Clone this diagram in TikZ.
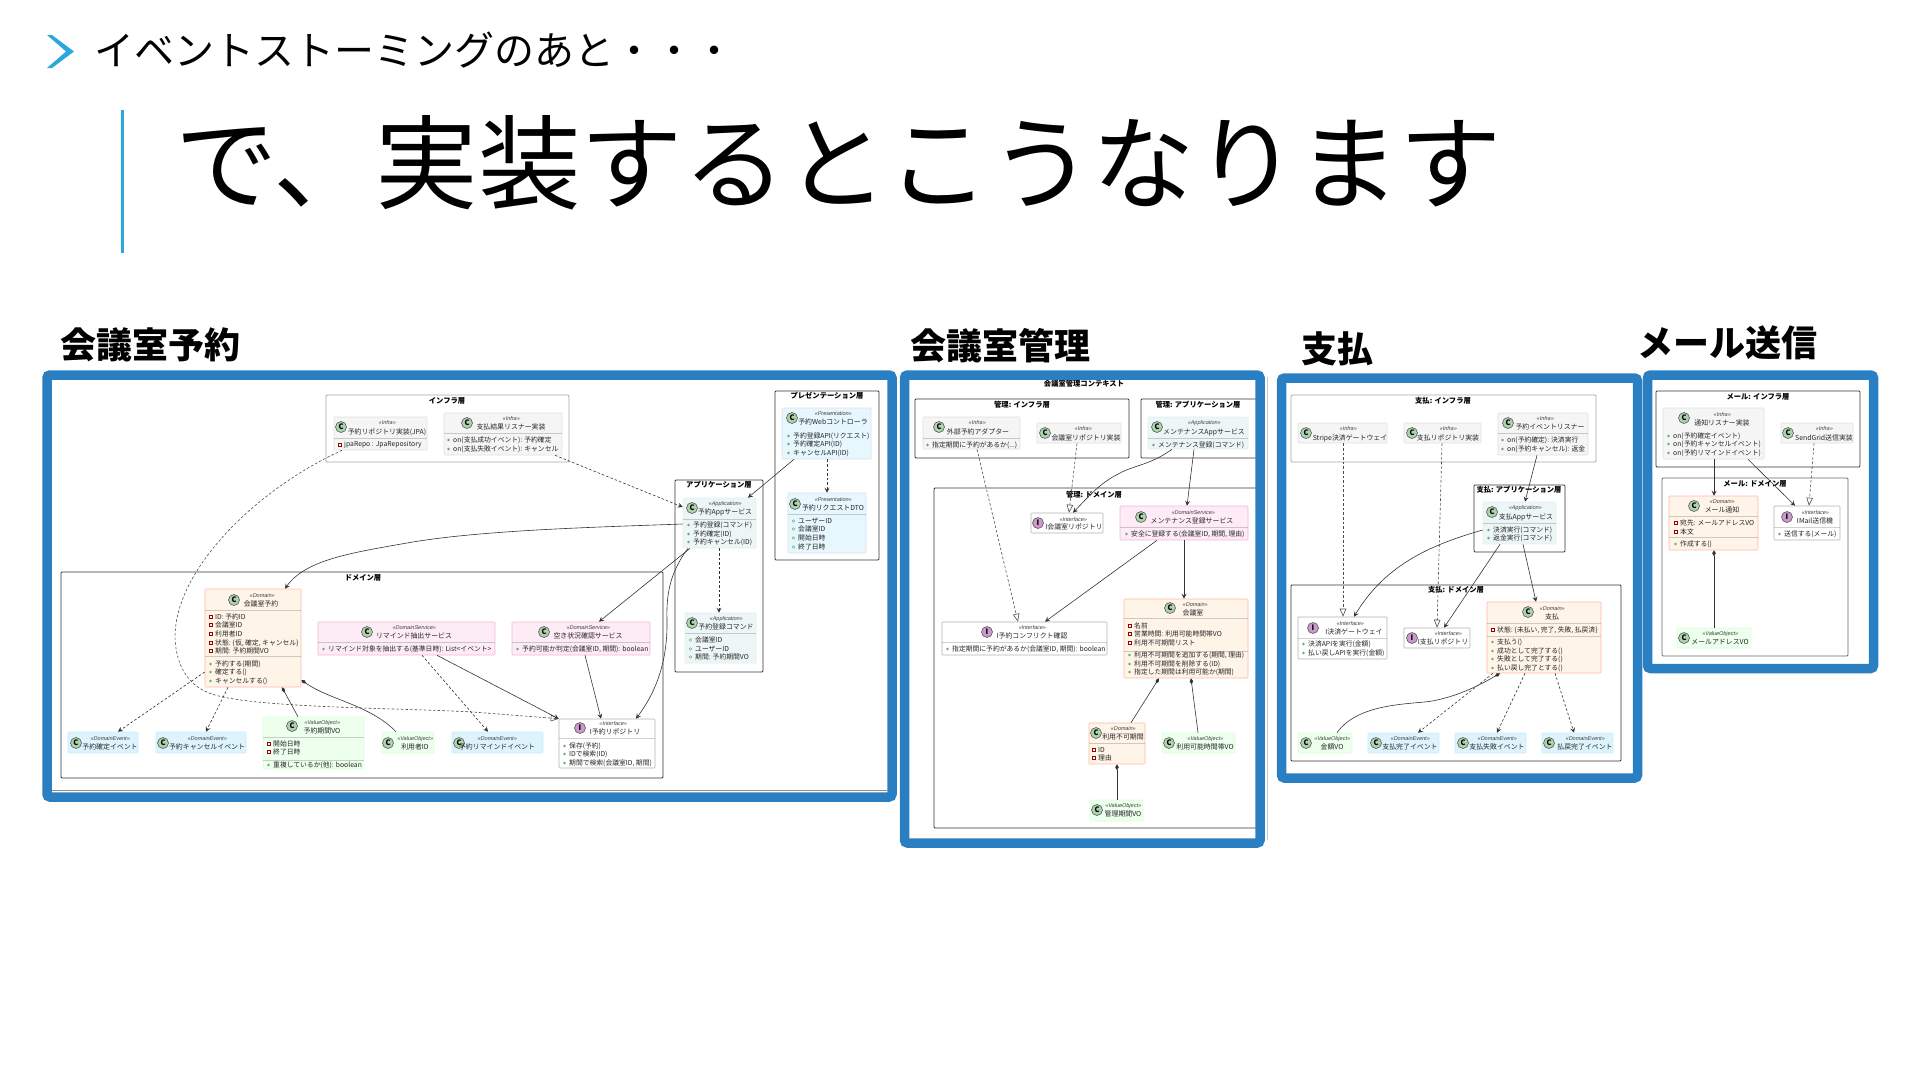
\documentclass[tikz,border=0pt]{standalone}
\usepackage{fontspec}
\setmainfont{Noto Sans CJK JP}
\newfontfamily\stereofont[FakeSlant=0.2]{Liberation Sans}
\usepackage{xcolor}
\usetikzlibrary{arrows.meta,fit,calc}
\definecolor{framecol}{HTML}{2A7FC2}
\definecolor{accentcol}{HTML}{2AA8DC}
\tikzset{
  % slide texts
  subhead/.style={anchor=west,inner sep=0pt,font=\fontsize{40}{44}\selectfont},
  pagehead/.style={anchor=west,inner sep=0pt,font=\fontsize{102.4}{110}\selectfont},
  panelhead/.style={anchor=west,inner sep=0pt,font=\fontsize{36}{40}\selectfont\bfseries},
  panelframe/.style={draw=framecol,line width=9.5pt,rounded corners=3pt,inner sep=0pt},
  % layers
  layerbox/.style={draw=black!80,line width=.8pt,rounded corners=1pt,inner sep=0pt},
  layerpale/.style={draw=black!35,line width=.8pt,rounded corners=1pt,inner sep=0pt},
  layertitle/.style={inner sep=0pt,font=\fontsize{7.3}{8}\selectfont\bfseries},
  % class cards
  card/.style={line width=.6pt,rounded corners=.8pt,inner sep=0pt},
  infracard/.style={card,fill=black!4,draw=black!12},
  domcard/.style={card,fill=orange!9,draw=orange!45!red!35},
  svccard/.style={card,fill=magenta!8,draw=magenta!30},
  evcard/.style={card,fill=cyan!13,draw=cyan!22},
  valcard/.style={card,fill=green!7,draw=green!15},
  appcard/.style={card,fill=teal!7,draw=teal!12},
  prescard/.style={card,fill=cyan!10,draw=cyan!18!blue!12},
  ifacecard/.style={card,fill=white,draw=black!30},
  sepline/.style={draw=black,draw opacity=.18,line width=.6pt},
  % card texts
  headC/.style={circle,draw=black!65,fill=green!45!black!32,line width=.6pt,inner sep=0pt,minimum size=11pt,
    font=\fontsize{7.5}{8}\selectfont\bfseries},
  headI/.style={headC,fill=violet!40},
  stereo/.style={inner sep=0pt,text=black!75,font=\fontsize{5.5}{6}\stereofont},
  cname/.style={inner sep=0pt,text=black!85,font=\fontsize{6.9}{8}\selectfont},
  memb/.style={anchor=west,inner sep=0pt,text=black!85,font=\fontsize{6.8}{8}\selectfont},
  pubdot/.style={circle,fill=green!45!black!60,inner sep=0pt,minimum size=2.6pt},
  pkgdot/.style={circle,draw=green!45!black!60,inner sep=0pt,minimum size=2.6pt,line width=.4pt},
  privbox/.style={draw=red!60!black,inner sep=0pt,minimum size=2.6pt,line width=.5pt},
  % connectors
  useedge/.style={line width=.6pt,black!80,-{Stealth[length=5pt,width=5pt,inset=2pt]}},
  depedge/.style={useedge,dash pattern=on 2.6pt off 2pt},
  realedge/.style={line width=.6pt,black!70,dash pattern=on 2.6pt off 2pt,-{Triangle[open,length=8pt,width=6.5pt,fill=white]}},
  compedge/.style={line width=.6pt,black!80,-{Diamond[length=6pt,width=3.5pt]}},
}
\newcommand{\cardhead}[7]{%
  \node[head#2] (#1C) at (#3) {#2};
  \node[stereo] (#1S) at (#4) {«#6»};
  \node[cname] (#1N) at (#5) {#7};}
\newcommand{\cardsep}[2]{\draw[sepline] (#1.west |- 0,#2) -- (#1.east |- 0,#2);}
\newcommand{\pubm}[4]{\node[pubdot] (#1m) at ({#2-4.5},#3) {}; \node[memb] (#1) at (#2,#3) {#4};}
\newcommand{\pkgm}[4]{\node[pkgdot] (#1m) at ({#2-4.5},#3) {}; \node[memb] (#1) at (#2,#3) {#4};}
\newcommand{\privm}[4]{\node[privbox] (#1m) at ({#2-4.5},#3) {}; \node[memb] (#1) at (#2,#3) {#4};}

\begin{document}
\begin{tikzpicture}[x=1pt,y=-1pt]
\useasboundingbox (0,0) rectangle (1920,1080);

%% ---- slide heading ----
\fill[accentcol] (47,35) -- (52,35) -- (74,51.5) -- (52,68) -- (47,68) -- (66,51.5) -- cycle;
\node[subhead] (subTitle) at (94,50) {イベントストーミングのあと・・・};
\fill[accentcol] (120.5,110) rectangle (123.5,253);
\node[pagehead] (pageTitle) at (175,163) {で、実装するとこうなります};
\node[panelhead] (headRsv) at (60,345) {会議室予約};
\node[panelhead] (headRoom) at (910,346) {会議室管理};
\node[panelhead] (headPay) at (1301,349) {支払};
\node[panelhead] (headMail) at (1637,343) {メール送信};

%% ---- panel: reservation, layers ----
\node[layerpale,fit={(326,395)(569,462)}] (rsvInfra) {};
\node[layertitle] (rsvInfraT) at (447,401) {インフラ層};
\node[layerbox,fit={(775,391)(879,560)}] (rsvPres) {};
\node[layertitle] (rsvPresT) at (827,396) {プレゼンテーション層};
\node[layerbox,fit={(675,480)(763,672)}] (rsvAppL) {};
\node[layertitle] (rsvAppT) at (719,485) {アプリケーション層};
\node[layerbox,fit={(61,572)(663,778)}] (rsvDom) {};
\node[layertitle] (rsvDomT) at (363,578) {ドメイン層};

%% ---- panel: reservation, cards ----
\node[infracard,fit={(334,417)(427,450)}] (rsvJpa) {};
\cardhead{rsvJpa}{C}{341,427}{387,423}{387,432}{Infra}{予約リポジトリ実装(JPA)}
\cardsep{rsvJpa}{438}
\privm{rsvJpaA}{344}{445}{jpaRepo : JpaRepository}

\node[infracard,fit={(444,413)(562,455)}] (rsvListen) {};
\cardhead{rsvListen}{C}{467,423}{511,419}{511,427}{Infra}{支払結果リスナー実装}
\cardsep{rsvListen}{433}
\pubm{rsvListenA}{453}{440}{on(支払成功イベント): 予約確定}
\pubm{rsvListenB}{453}{449}{on(支払失敗イベント): キャンセル}

\node[prescard,fit={(782,408)(871,459)}] (rsvWeb) {};
\cardhead{rsvWeb}{C}{792,418}{833,414}{833,422}{Presentation}{予約Webコントローラ}
\pubm{rsvWebA}{793}{436}{予約登録API(リクエスト)}
\pubm{rsvWebB}{793}{444}{予約確定API(ID)}
\pubm{rsvWebC}{793}{453}{キャンセルAPI(ID)}

\node[prescard,fit={(788,493)(866,553)}] (rsvDto) {};
\cardhead{rsvDto}{C}{795,504}{833,500}{833,508}{Presentation}{予約リクエストDTO}
\cardsep{rsvDto}{514}
\pkgm{rsvDtoA}{798}{521}{ユーザーID}
\pkgm{rsvDtoB}{798}{529}{会議室ID}
\pkgm{rsvDtoC}{798}{538}{開始日時}
\pkgm{rsvDtoD}{798}{547}{終了日時}

\node[appcard,fit={(683,498)(756,548)}] (rsvApp) {};
\cardhead{rsvApp}{C}{692,508}{725,504}{725,512}{Application}{予約Appサービス}
\cardsep{rsvApp}{519}
\pubm{rsvAppA}{693}{525}{予約登録(コマンド)}
\pubm{rsvAppB}{693}{534}{予約確定(ID)}
\pubm{rsvAppC}{693}{542}{予約キャンセル(ID)}

\node[appcard,fit={(685,613)(756,663)}] (rsvCmd) {};
\cardhead{rsvCmd}{C}{692,623}{726,619}{726,627}{Application}{予約登録コマンド}
\cardsep{rsvCmd}{633}
\pkgm{rsvCmdA}{695}{640}{会議室ID}
\pkgm{rsvCmdB}{695}{649}{ユーザーID}
\pkgm{rsvCmdC}{695}{657}{期間: 予約期間VO}

\node[domcard,fit={(205,589)(301,687)}] (rsvRoom) {};
\cardhead{rsvRoom}{C}{234,600}{262,596}{261,604}{Domain}{会議室予約}
\cardsep{rsvRoom}{610}
\cardsep{rsvRoom}{656}
\privm{rsvRoomA}{215}{617}{ID: 予約ID}
\privm{rsvRoomB}{215}{625}{会議室ID}
\privm{rsvRoomC}{215}{634}{利用者ID}
\privm{rsvRoomD}{215}{643}{状態: \{仮, 確定, キャンセル\}}
\privm{rsvRoomE}{215}{651}{期間: 予約期間VO}
\pubm{rsvRoomF}{215}{664}{予約する(期間)}
\pubm{rsvRoomG}{215}{672}{確定する()}
\pubm{rsvRoomH}{215}{681}{キャンセルする()}

\node[svccard,fit={(318,622)(495,655)}] (rsvRemind) {};
\cardhead{rsvRemind}{C}{367,632}{414,628}{414,636}{DomainService}{リマインド抽出サービス}
\cardsep{rsvRemind}{642}
\pubm{rsvRemindA}{328}{649}{リマインド対象を抽出する(基準日時): List<イベント>}

\node[svccard,fit={(512,622)(650,655)}] (rsvAvail) {};
\cardhead{rsvAvail}{C}{544,632}{588,628}{588,636}{DomainService}{空き状況確認サービス}
\cardsep{rsvAvail}{642}
\pubm{rsvAvailA}{522}{649}{予約可能か判定(会議室ID, 期間): boolean}

\node[ifacecard,fit={(559,719)(655,768)}] (rsvRepo) {};
\cardhead{rsvRepo}{I}{580,728}{613,724}{615,732}{Interface}{I予約リポジトリ}
\cardsep{rsvRepo}{738}
\pubm{rsvRepoA}{569}{746}{保存(予約)}
\pubm{rsvRepoB}{569}{754}{IDで検索(ID)}
\pubm{rsvRepoC}{569}{763}{期間で検索(会議室ID, 期間)}

\node[evcard,fit={(68,732)(138,753)}] (rsvFixEv) {};
\cardhead{rsvFixEv}{C}{76,743}{110,739}{110,747}{DomainEvent}{予約確定イベント}
\node[evcard,fit={(156,732)(246,753)}] (rsvCancelEv) {};
\cardhead{rsvCancelEv}{C}{163,743}{207,739}{207,747}{DomainEvent}{予約キャンセルイベント}
\node[valcard,fit={(263,717)(364,769)}] (rsvSpan) {};
\cardhead{rsvSpan}{C}{292,726}{322,723}{322,731}{ValueObject}{予約期間VO}
\cardsep{rsvSpan}{737}
\cardsep{rsvSpan}{760}
\privm{rsvSpanA}{273}{744}{開始日時}
\privm{rsvSpanB}{273}{752}{終了日時}
\pubm{rsvSpanC}{273}{765}{重複しているか(他): boolean}
\node[valcard,fit={(382,732)(434,753)}] (rsvUser) {};
\cardhead{rsvUser}{C}{388,743}{415,739}{415,747}{ValueObject}{利用者ID}
\node[evcard,fit={(452,732)(543,753)}] (rsvRemEv) {};
\cardhead{rsvRemEv}{C}{459,743}{497,739}{497,747}{DomainEvent}{予約リマインドイベント}

%% ---- panel: reservation, connectors ----
\draw[realedge] (rsvJpa.south -| 342,0) .. controls (255,490) and (175,570) .. (175,637)
  .. controls (176,668) and (190,688) .. (215,695) .. controls (260,708) and (400,708) .. (473,712)
  -- (rsvRepo.north west);
\draw[depedge] (rsvListen.south -| 555,0) -- (rsvApp.west |- 0,507);
\draw[useedge] (rsvWeb.south -| 794,0) -- (rsvApp.north -| 748,0);
\draw[depedge] (rsvWeb.south -| 827,0) -- (rsvDto.north -| 827,0);
\draw[depedge] (rsvApp.south -| 719,0) -- (rsvCmd.north -| 719,0);
\draw[useedge] (rsvApp.west |- 0,524) .. controls (600,527) and (480,530) .. (407,543)
  .. controls (350,553) and (305,560) .. (rsvRoom.north -| 285,0);
\draw[useedge] (rsvApp.south -| 690,0) -- (rsvAvail.north -| 599,0);
\draw[useedge] (rsvApp.south -| 688,0) .. controls (672,570) and (666,590) .. (667,620)
  .. controls (668,670) and (650,700) .. (rsvRepo.north -| 636,0);
\draw[useedge] (rsvAvail.south -| 585,0) -- (rsvRepo.north -| 601,0);
\draw[useedge] (rsvRemind.south -| 437,0) -- (rsvRepo.north west);
\draw[depedge] (rsvRemind.south -| 422,0) -- (rsvRemEv.north -| 488,0);
\draw[depedge] (rsvRoom.west |- 0,672) -- (rsvFixEv.north -| 118,0);
\draw[depedge] (rsvRoom.south -| 228,0) -- (rsvCancelEv.north -| 206,0);
\draw[compedge] (rsvSpan.north -| 298,0) -- (rsvRoom.south -| 282,0);
\draw[compedge] (rsvUser.north -| 396,0) .. controls (370,705) and (330,700) .. (rsvRoom.east |- 0,680);

%% ---- panel: room management, layers ----
\node[layertitle] (romT) at (1084,384) {会議室管理コンテキスト};
\node[layerbox,fit={(915,399)(1129,458)}] (romInfra) {};
\node[layertitle] (romInfraT) at (1022,405) {管理: インフラ層};
\node[layerbox,fit={(1141,399)(1258,458)}] (romAppL) {};
\node[layertitle] (romAppT) at (1198,405) {管理: アプリケーション層};
\node[layerbox,fit={(934,488)(1258,828)}] (romDom) {};
\node[layertitle] (romDomT) at (1094,495) {管理: ドメイン層};

%% ---- panel: room management, cards ----
\node[infracard,fit={(923,417)(1020,449)}] (romExt) {};
\cardhead{romExt}{C}{939,427}{977,423}{978,432}{Infra}{外部予約アダプター}
\cardsep{romExt}{438}
\pubm{romExtA}{932}{445}{指定期間に予約があるか(...)}

\node[infracard,fit={(1037,423)(1121,443)}] (romImpl) {};
\cardhead{romImpl}{C}{1045,433}{1083,429}{1086,438}{Infra}{会議室リポジトリ実装}

\node[appcard,fit={(1148,417)(1248,449)}] (romApp) {};
\cardhead{romApp}{C}{1157,427}{1204,423}{1204,432}{Application}{メンテナンスAppサービス}
\cardsep{romApp}{438}
\pubm{romAppA}{1158}{445}{メンテナンス登録(コマンド)}

\node[ifacecard,fit={(1031,513)(1103,533)}] (romRepo) {};
\cardhead{romRepo}{I}{1038,523}{1073,520}{1074,527}{Interface}{I会議室リポジトリ}

\node[svccard,fit={(1120,506)(1248,540)}] (romSvc) {};
\cardhead{romSvc}{C}{1141,517}{1193,513}{1192,521}{DomainService}{メンテナンス登録サービス}
\cardsep{romSvc}{527}
\pubm{romSvcA}{1131}{534}{安全に登録する(会議室ID, 期間, 理由)}

\node[ifacecard,fit={(942,622)(1107,655)}] (romCheck) {};
\cardhead{romCheck}{I}{987,632}{1032,628}{1032,636}{Interface}{I予約コンフリクト確認}
\cardsep{romCheck}{642}
\pubm{romCheckA}{952}{649}{指定期間に予約があるか(会議室ID, 期間): boolean}

\node[domcard,fit={(1124,599)(1248,678)}] (romRoom) {};
\cardhead{romRoom}{C}{1170,608}{1195,605}{1193,613}{Domain}{会議室}
\cardsep{romRoom}{618}
\cardsep{romRoom}{651}
\privm{romRoomA}{1134}{626}{名前}
\privm{romRoomB}{1134}{634}{営業時間: 利用可能時間帯VO}
\privm{romRoomC}{1134}{643}{利用不可期間リスト}
\pubm{romRoomD}{1134}{655}{利用不可期間を追加する(期間, 理由)}
\pubm{romRoomE}{1134}{664}{利用不可期間を削除する(ID)}
\pubm{romRoomF}{1134}{672}{指定した期間は利用可能か(期間)}

\node[domcard,fit={(1089,723)(1145,764)}] (romOff) {};
\cardhead{romOff}{C}{1096,733}{1123,729}{1123,737}{Domain}{利用不可期間}
\cardsep{romOff}{743}
\privm{romOffA}{1098}{750}{ID}
\privm{romOffB}{1098}{758}{理由}

\node[valcard,fit={(1162,733)(1235,753)}] (romHours) {};
\cardhead{romHours}{C}{1169,743}{1205,739}{1205,747}{ValueObject}{利用可能時間帯VO}
\node[valcard,fit={(1090,800)(1143,821)}] (romSpan) {};
\cardhead{romSpan}{C}{1097,810}{1123,806}{1123,814}{ValueObject}{管理期間VO}

%% ---- panel: room management, connectors ----
\draw[realedge] (romExt.south -| 977,0) -- (romCheck.north -| 1018,0);
\draw[realedge] (romImpl.south -| 1077,0) -- (romRepo.north -| 1069,0);
\draw[useedge] (romApp.south -| 1172,0) .. controls (1150,465) and (1135,465) .. (1120,473)
  .. controls (1100,483) and (1090,495) .. (romRepo.north -| 1073,0);
\draw[useedge] (romApp.south -| 1194,0) -- (romSvc.north -| 1187,0);
\draw[useedge] (romSvc.south -| 1157,0) -- (romCheck.north -| 1045,0);
\draw[useedge] (romSvc.south -| 1184,0) -- (romRoom.north -| 1184,0);
\draw[compedge] (romOff.north -| 1131,0) -- (romRoom.south -| 1159,0);
\draw[compedge] (romHours.north -| 1198,0) -- (romRoom.south -| 1191,0);
\draw[compedge] (romSpan.north -| 1117,0) -- (romOff.south -| 1117,0);

%% ---- panel: payment, layers ----
\node[layerpale,fit={(1291,395)(1596,462)}] (payInfra) {};
\node[layertitle] (payInfraT) at (1443,401) {支払: インフラ層};
\node[layerbox,fit={(1474,485)(1565,552)}] (payAppL) {};
\node[layertitle] (payAppT) at (1519,490) {支払: アプリケーション層};
\node[layerbox,fit={(1291,585)(1621,761)}] (payDom) {};
\node[layertitle] (payDomT) at (1456,590) {支払: ドメイン層};

%% ---- panel: payment, cards ----
\node[infracard,fit={(1298,423)(1387,443)}] (payStripe) {};
\cardhead{payStripe}{C}{1306,433}{1348,429}{1350,438}{Infra}{Stripe決済ゲートウェイ}
\node[infracard,fit={(1404,423)(1481,443)}] (payImpl) {};
\cardhead{payImpl}{C}{1412,433}{1448,429}{1448,438}{Infra}{支払リポジトリ実装}
\node[infracard,fit={(1498,413)(1588,455)}] (payListen) {};
\cardhead{payListen}{C}{1508,423}{1545,419}{1550,427}{Infra}{予約イベントリスナー}
\cardsep{payListen}{433}
\pubm{payListenA}{1507}{440}{on(予約確定): 決済実行}
\pubm{payListenB}{1507}{449}{on(予約キャンセル): 返金}

\node[appcard,fit={(1483,502)(1556,544)}] (payApp) {};
\cardhead{payApp}{C}{1492,512}{1525,508}{1526,517}{Application}{支払Appサービス}
\cardsep{payApp}{523}
\pubm{payAppA}{1493}{530}{決済実行(コマンド)}
\pubm{payAppB}{1493}{538}{返金実行(コマンド)}

\node[ifacecard,fit={(1298,617)(1387,659)}] (payGate) {};
\cardhead{payGate}{I}{1313,628}{1350,624}{1354,632}{Interface}{I決済ゲートウェイ}
\cardsep{payGate}{638}
\pubm{payGateA}{1308}{644}{決済APIを実行(金額)}
\pubm{payGateB}{1308}{653}{払い戻しAPIを実行(金額)}

\node[ifacecard,fit={(1404,628)(1470,648)}] (payRepo) {};
\cardhead{payRepo}{I}{1412,638}{1448,634}{1443,642}{Interface}{I支払リポジトリ}

\node[domcard,fit={(1487,602)(1601,673)}] (payMain) {};
\cardhead{payMain}{C}{1528,612}{1552,609}{1552,617}{Domain}{支払}
\cardsep{payMain}{623}
\cardsep{payMain}{636}
\privm{payMainA}{1497}{630}{状態: \{未払い, 完了, 失敗, 払戻済\}}
\pubm{payMainB}{1497}{642}{支払う()}
\pubm{payMainC}{1497}{651}{成功として完了する()}
\pubm{payMainD}{1497}{659}{失敗として完了する()}
\pubm{payMainE}{1497}{668}{払い戻し完了とする()}

\node[valcard,fit={(1298,733)(1352,753)}] (payAmt) {};
\cardhead{payAmt}{C}{1306,743}{1332,739}{1332,747}{ValueObject}{金額VO}
\node[evcard,fit={(1368,733)(1439,753)}] (payDoneEv) {};
\cardhead{payDoneEv}{C}{1376,743}{1410,739}{1410,747}{DomainEvent}{支払完了イベント}
\node[evcard,fit={(1455,733)(1526,753)}] (payFailEv) {};
\cardhead{payFailEv}{C}{1463,743}{1497,739}{1497,747}{DomainEvent}{支払失敗イベント}
\node[evcard,fit={(1542,733)(1613,753)}] (payBackEv) {};
\cardhead{payBackEv}{C}{1549,743}{1585,739}{1585,747}{DomainEvent}{払戻完了イベント}

%% ---- panel: payment, connectors ----
\draw[realedge] (payStripe.south -| 1343,0) -- (payGate.north -| 1343,0);
\draw[realedge] (payImpl.south -| 1442,0) -- (payRepo.north -| 1437,0);
\draw[useedge] (payListen.south -| 1537,0) -- (payApp.north -| 1525,0);
\draw[useedge] (payApp.west |- 0,530) .. controls (1430,545) and (1385,565) .. (payGate.north -| 1354,0);
\draw[useedge] (payApp.south -| 1500,0) -- (payRepo.north -| 1444,0);
\draw[useedge] (payApp.south -| 1523,0) -- (payMain.north -| 1536,0);
\draw[compedge] (payAmt.north -| 1337,0) .. controls (1360,700) and (1420,705) .. (1437,700)
  .. controls (1460,695) and (1480,685) .. (payMain.south -| 1500,0);
\draw[depedge] (payMain.south -| 1493,0) -- (payDoneEv.north -| 1418,0);
\draw[depedge] (payMain.south -| 1525,0) -- (payFailEv.north -| 1497,0);
\draw[depedge] (payMain.south -| 1555,0) -- (payBackEv.north -| 1574,0);

%% ---- panel: mail, layers ----
\node[layerbox,fit={(1656,391)(1860,467)}] (mailInfra) {};
\node[layertitle] (mailInfraT) at (1758,397) {メール: インフラ層};
\node[layerbox,black!60,fit={(1662,478)(1848,656)}] (mailDom) {};
\node[layertitle] (mailDomT) at (1755,484) {メール: ドメイン層};

%% ---- panel: mail, cards ----
\node[infracard,fit={(1663,408)(1764,459)}] (mailListen) {};
\cardhead{mailListen}{C}{1684,418}{1722,415}{1722,423}{Infra}{通知リスナー実装}
\pubm{mailListenA}{1673}{436}{on(予約確定イベント)}
\pubm{mailListenB}{1673}{444}{on(予約キャンセルイベント)}
\pubm{mailListenC}{1673}{453}{on(予約リマインドイベント)}

\node[infracard,fit={(1781,423)(1853,443)}] (mailImpl) {};
\cardhead{mailImpl}{C}{1788,433}{1824,429}{1824,438}{Infra}{SendGrid送信実装}

\node[domcard,fit={(1669,496)(1758,550)}] (mailMain) {};
\cardhead{mailMain}{C}{1694,506}{1722,502}{1722,510}{Domain}{メール通知}
\cardsep{mailMain}{516}
\cardsep{mailMain}{537}
\privm{mailMainA}{1680}{523}{宛先: メールアドレスVO}
\privm{mailMainB}{1680}{532}{本文}
\pubm{mailMainC}{1680}{544}{作成する()}

\node[ifacecard,fit={(1774,506)(1840,540)}] (mailSend) {};
\cardhead{mailSend}{I}{1787,517}{1815,513}{1815,521}{Interface}{IMail送信機}
\cardsep{mailSend}{527}
\pubm{mailSendA}{1784}{534}{送信する(メール)}

\node[valcard,fit={(1677,628)(1751,648)}] (mailAddr) {};
\cardhead{mailAddr}{C}{1684,638}{1720,634}{1720,642}{ValueObject}{メールアドレスVO}

%% ---- panel: mail, connectors ----
\draw[useedge] (mailListen.south -| 1714,0) -- (mailMain.north -| 1714,0);
\draw[useedge] (mailListen.south -| 1748,0) -- (mailSend.north -| 1795,0);
\draw[realedge] (mailImpl.south -| 1814,0) -- (mailSend.north -| 1809,0);
\draw[compedge] (mailAddr.north -| 1714,0) -- (mailMain.south -| 1714,0);

%% ---- screenshot edges ----
\fill[black!45] (51,790.3) rectangle (887,791.1);
\fill[black!20] (1266.6,377) rectangle (1267.2,840);

%% ---- blue frames ----
\node[panelframe,fit={(47,375)(892,797)}] (rsvFrame) {};
\node[panelframe,fit={(904.5,375)(1260,843)}] (romFrame) {};
\node[panelframe,fit={(1281.5,378)(1637.5,778)}] (payFrame) {};
\node[panelframe,fit={(1647.5,375)(1873.5,668.5)}] (mailFrame) {};
\end{tikzpicture}
\end{document}
